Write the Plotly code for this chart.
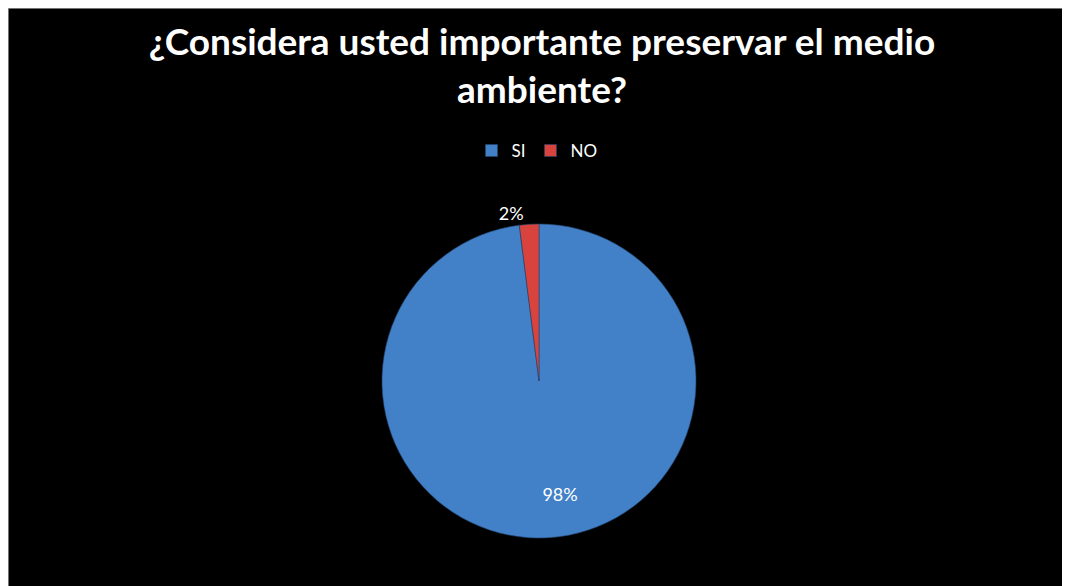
import plotly.graph_objects as go

W, H = 1070, 586
OFF = 8  # page margin offset applied by the browser

categories = ["SI", "NO"]
values = [98, 2]
colors = ["#4280C8", "#D8443D"]
text_positions = ["inside", "outside"]
text_templates = ["&nbsp;<br>&nbsp;<br>&nbsp;<br>&nbsp;&nbsp;&nbsp;&nbsp;&nbsp;&nbsp;&nbsp;%{percent:.0%}",
                  "%{percent:.0%}"]

title_text = "¿Considera usted importante preservar el medio<br>ambiente?"

def px_x(p):
    return (p - OFF) / W

def px_y(p):
    return 1 - (p - OFF) / H

fig = go.Figure()
fig.add_trace(go.Pie(
    labels=categories,
    values=values,
    sort=False,
    direction="clockwise",
    rotation=0,
    marker=dict(colors=colors, line=dict(color="#23456F", width=0.6)),
    texttemplate=text_templates,
    textposition=text_positions,
    textfont=dict(family="Lato", size=18, color="white"),
    insidetextorientation="horizontal",
    domain=dict(x=[px_x(382), px_x(696)], y=[px_y(538), px_y(224)]),
    hoverinfo="label+percent",
))

# thin grey frame on the left and top edges
fig.add_shape(type="line", xref="paper", yref="paper", x0=0, x1=0, y0=0, y1=1,
              line=dict(color="#9A9A9A", width=1.5))
fig.add_shape(type="line", xref="paper", yref="paper", x0=0, x1=1, y0=1, y1=1,
              line=dict(color="#9A9A9A", width=1.5))

fig.update_layout(
    width=W, height=H,
    margin=dict(l=0, r=0, t=0, b=0),
    paper_bgcolor="black",
    plot_bgcolor="black",
    title=dict(text=title_text, x=px_x(542), xanchor="center",
               y=px_y(55), yanchor="middle",
               font=dict(family="Lato", size=37, color="white", weight="bold")),
    showlegend=True,
    legend=dict(orientation="h", x=px_x(537), xanchor="center",
                y=px_y(151), yanchor="middle",
                font=dict(family="Lato", size=17, color="white"),
                bgcolor="rgba(0,0,0,0)", itemwidth=30,
                traceorder="normal"),
)

fig.write_html("out.html")
